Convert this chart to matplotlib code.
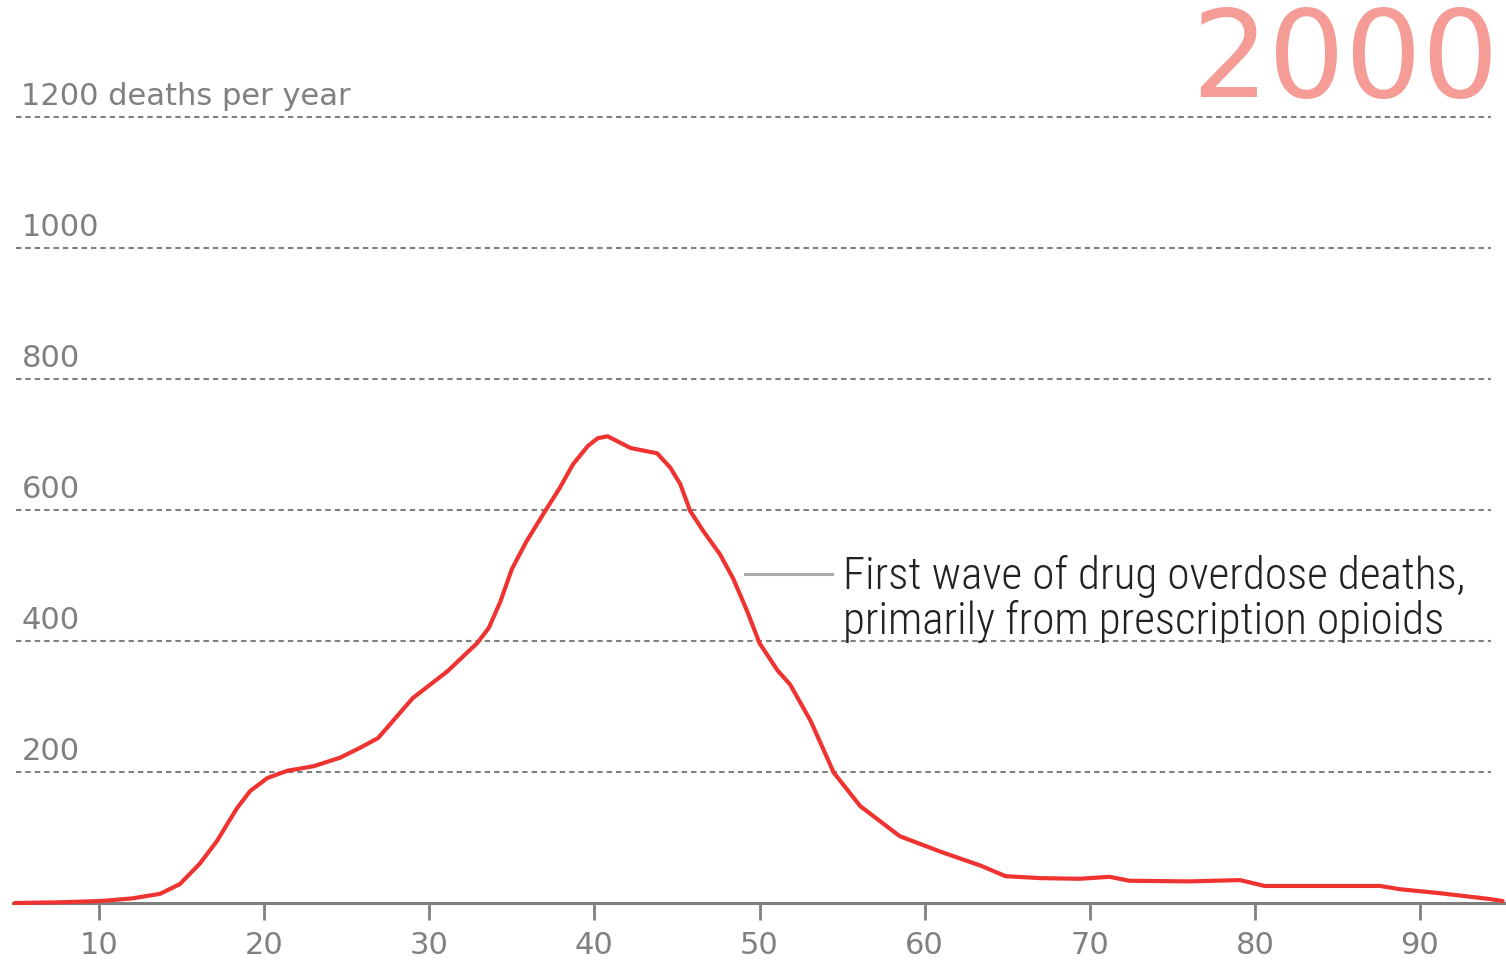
import matplotlib
matplotlib.use("Agg")
import matplotlib.pyplot as plt

# ages and deaths per year
ages = [4.9, 7.5, 10.1, 12.0, 13.7, 14.9, 16.1, 17.15, 17.75, 18.36, 19.15, 20.2,
        21.4, 23.0, 24.6, 25.8, 26.9, 29.0, 31.1, 32.9, 33.6, 34.3, 35.0, 35.9,
        36.9, 37.9, 38.7, 39.6, 40.2, 40.8, 42.2, 43.8, 44.6, 45.2, 45.8, 46.6,
        47.6, 48.4, 49.25, 50.0, 51.1, 51.85, 53.1, 54.5, 56.1, 58.5, 60.9,
        63.4, 64.9, 67.0, 69.4, 71.2, 72.4, 76.0, 79.1, 80.6, 85.2, 87.6, 88.8,
        91.2, 94.25, 95.0]
deaths = [0, 1, 3, 7, 14, 29, 60, 95, 120, 145, 171, 191,
          202, 209, 222, 237, 252, 313, 354, 397, 420, 460, 510, 553,
          594, 634, 670, 698, 710, 713, 695, 687, 665, 640, 599, 568,
          533, 496, 446, 397, 355, 334, 278, 199, 148, 102, 79,
          57, 41, 38, 37, 40, 34, 33, 35, 26, 26, 26, 21,
          15, 6, 3]

grid_values = [200, 400, 600, 800, 1000, 1200]
grid_labels = ["200", "400", "600", "800", "1000", "1200 deaths per year"]
x_ticks = [10, 20, 30, 40, 50, 60, 70, 80, 90]
year = "2000"
note = "First wave of drug overdose deaths,\nprimarily from prescription opioids"

font = ["DejaVu Sans"]
note_font = ["Roboto Condensed", "DejaVu Sans"]
gray = "#808080"

fig = plt.figure(figsize=(15.06, 9.6), dpi=100)
ax = fig.add_axes([13 / 1506, 57 / 960, 1493 / 1506, 903 / 960])
ax.set_xlim(4.79, 95.21)
ax.set_ylim(0, 1379.5)

for v in grid_values:
    ax.axhline(v, xmin=0.002, xmax=0.99, color=gray, lw=1.5, ls=(0, (2.6, 1.9)), zorder=1)

for v, lab in zip(grid_values, grid_labels):
    ax.text(5.3, v + 19, lab, fontsize=22, color=gray, va="baseline", ha="left", family=font)

ax.plot(ages, deaths, color="#EE3330", lw=3, solid_joinstyle="round",
        solid_capstyle="round", zorder=3, clip_on=False)

# annotation
ax.plot([49.12, 54.39], [502, 502], color="#aaaaaa", lw=2.2, zorder=2)
ax.text(55.06, 464, note, fontsize=32.5, color="#222222", va="center", ha="left",
        linespacing=1.05, family=note_font, fontweight="light")

ax.text(94.75, 1372, year, fontsize=87, color="#F59C96", va="top", ha="right", family=font)

for s in ["top", "left", "right"]:
    ax.spines[s].set_visible(False)
ax.spines["bottom"].set_color(gray)
ax.spines["bottom"].set_linewidth(2.2)
ax.set_yticks([])
ax.set_xticks(x_ticks)
ax.tick_params(axis="x", length=12, width=2, color=gray, labelcolor=gray,
               labelsize=22, pad=8)
for t in ax.get_xticklabels():
    t.set_family(font)

fig.savefig("out.png", dpi=100)
